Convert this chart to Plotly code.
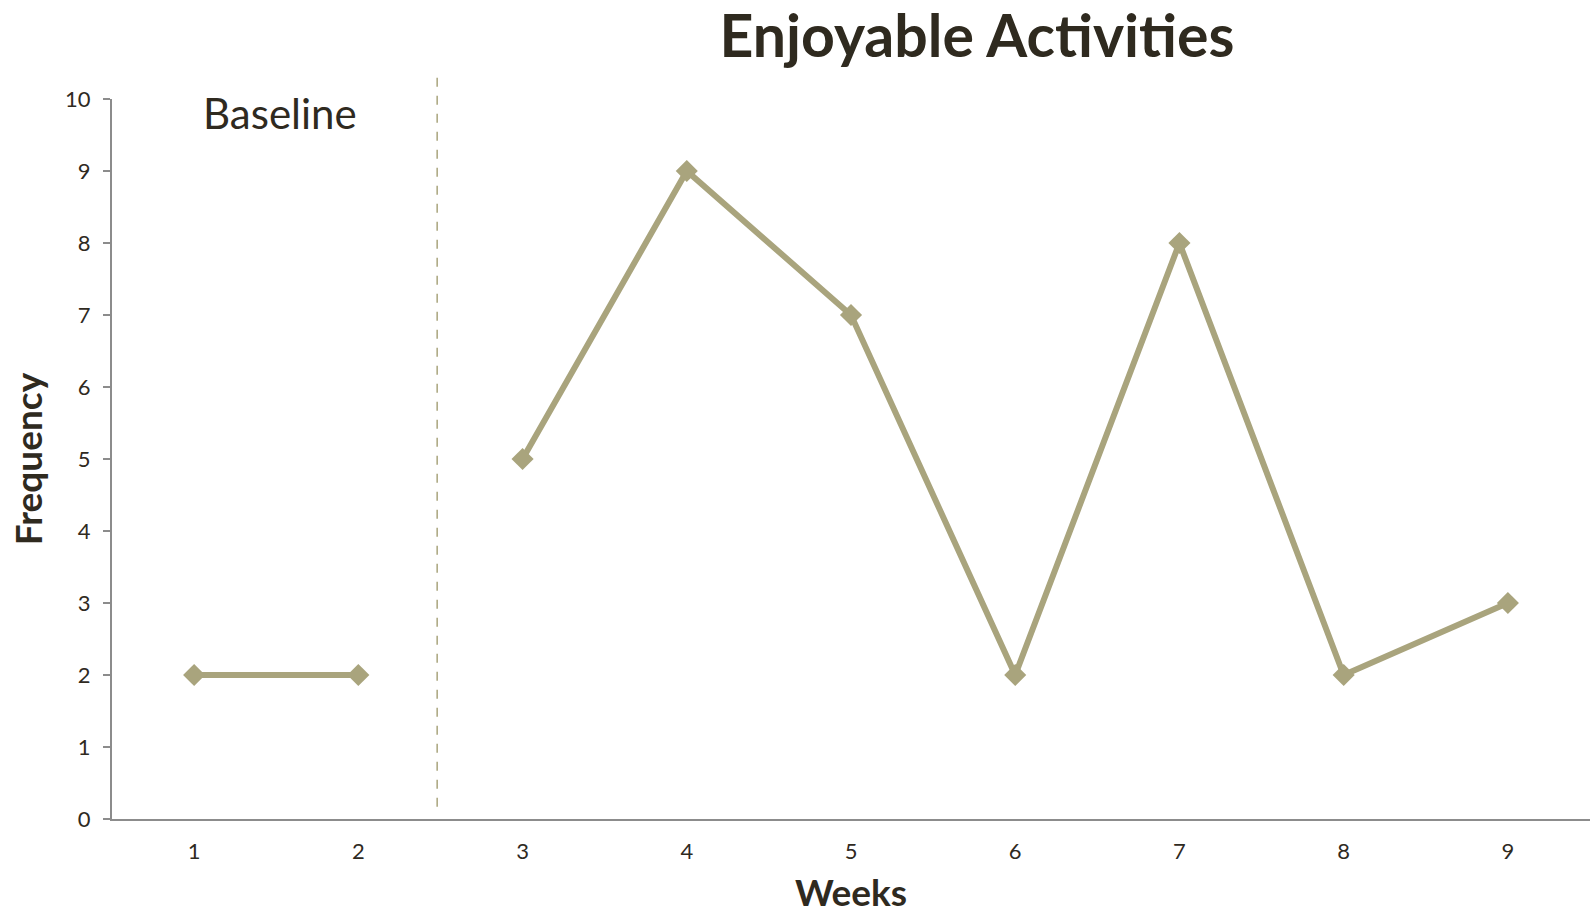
import plotly.graph_objects as go

# Data
baseline_weeks = [1, 2]
baseline_freq = [2, 2]
treat_weeks = [3, 4, 5, 6, 7, 8, 9]
treat_freq = [5, 9, 7, 2, 8, 2, 3]
week_ticks = [1, 2, 3, 4, 5, 6, 7, 8, 9]
freq_ticks = [0, 1, 2, 3, 4, 5, 6, 7, 8, 9, 10]
phase_change = 2.48

LINE = "#a9a47d"
TXT = "#2f2a1f"
AX = "#8c8c8c"
FONT = "Lato"

fig = go.Figure()
for xs, ys in [(baseline_weeks, baseline_freq), (treat_weeks, treat_freq)]:
    fig.add_trace(go.Scatter(
        x=xs, y=ys, mode="lines+markers",
        line=dict(color=LINE, width=6),
        marker=dict(symbol="diamond", size=17, color=LINE),
        showlegend=False, cliponaxis=False,
    ))

fig.add_shape(type="line", xref="x", yref="paper",
              x0=phase_change, x1=phase_change, y0=0.017, y1=1.039,
              line=dict(color=LINE, width=1.5, dash="dash"))

fig.add_annotation(text="Baseline", xref="x", yref="paper", x=1.52, y=0.98,
                   showarrow=False, font=dict(family=FONT, size=42, color=TXT),
                   xanchor="center", yanchor="middle")

fig.update_layout(
    width=1596, height=914,
    margin=dict(l=112, r=6, t=99, b=95),
    plot_bgcolor="white", paper_bgcolor="white",
    title=dict(text="<b>Enjoyable Activities</b>", x=977/1596, xanchor="center",
               y=1 - 36/914, yanchor="middle",
               font=dict(family=FONT, size=59, color=TXT)),
    xaxis=dict(range=[0.5, 9.5], tickvals=week_ticks, ticks="", automargin=False,
               showline=True, linecolor=AX, linewidth=2, showgrid=False, zeroline=False,
               tickfont=dict(family=FONT, size=22, color=TXT), ticklabelstandoff=12,
               title=dict(text="<b>Weeks</b>", font=dict(family=FONT, size=37, color=TXT), standoff=20)),
    yaxis=dict(range=[0, 10], tickvals=freq_ticks, ticks="outside", ticklen=7, tickcolor=AX, tickwidth=2,
               automargin=False,
               showline=True, linecolor=AX, linewidth=2, showgrid=False, zeroline=False,
               tickfont=dict(family=FONT, size=22, color=TXT), ticklabelstandoff=8,
               title=dict(text="<b>Frequency</b>", font=dict(family=FONT, size=37, color=TXT), standoff=11)),
)

fig.write_html("out.html")
